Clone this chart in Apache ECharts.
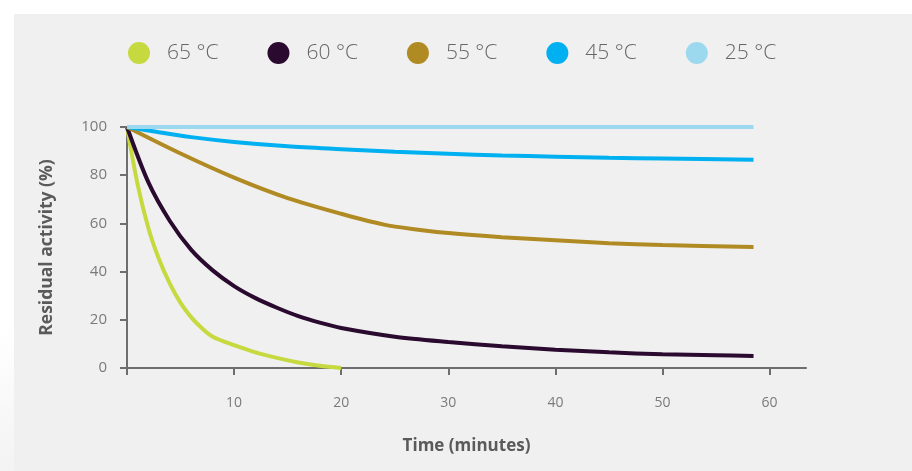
<!DOCTYPE html>
<html>
<head>
<meta charset="utf-8">
<script src="https://cdn.jsdelivr.net/npm/echarts@6/dist/echarts.min.js"></script>
<style>
  html, body { margin: 0; padding: 0; }
  body {
    width: 912px; height: 471px; overflow: hidden; position: relative;
    background: linear-gradient(to bottom, #ffffff 0%, #ffffff 70%, #f3f3f3 100%);
  }
  #panel { position: absolute; left: 14px; top: 14px; right: 0; bottom: 0; background: #f0f0f0; }
  #chart { position: absolute; left: 0; top: 0; width: 912px; height: 471px; }
</style>
</head>
<body>
<div id="panel"></div>
<div id="chart"></div>
<script>
// Residual enzyme activity over time at several incubation temperatures
const seriesNames = ['65 °C', '60 °C', '55 °C', '45 °C', '25 °C'];
const seriesColors = ['#c6d93f', '#2a0a2e', '#b08a22', '#00b0f0', '#9dd9ee'];

// [time (min), residual activity (%)]
const act65 = [[0,100],[1,76],[2,58],[3,45],[4,35],[5,27],[6,21],[7,16.5],[8,13],[10,9.5],[12,6.5],[14,4.2],[16,2.3],[18,0.9],[20,0]];
const act60 = [[0,100],[2,77],[4,61],[6,49],[8,40.5],[10,34],[12,29],[14,25],[16,21.5],[18,18.8],[20,16.6],[25,13],[30,10.8],[35,9],[40,7.6],[45,6.5],[50,5.7],[55,5.3],[58.5,5]];
const act55 = [[0,100],[5,89],[10,79],[15,70.5],[20,64],[24,59.5],[27,57.5],[30,56],[35,54.3],[40,53],[45,51.8],[50,51],[58.5,50.2]];
const act45 = [[0,100],[3,97.8],[6,95.8],[10,93.8],[15,92],[20,90.8],[25,89.7],[30,88.9],[35,88.2],[40,87.7],[45,87.2],[50,86.9],[58.5,86.4]];
const act25 = [[0,100],[30,100],[58.5,100]];
const seriesData = [act65, act60, act55, act45, act25];

const xTicks = [0, 10, 20, 30, 40, 50, 60];
const xLabels = [10, 20, 30, 40, 50, 60];

const axisColor = '#6e6e6e';
const labelColor = '#7a7a7a';
const nameColor = '#5a5a5a';
const fontFamily = "'Open Sans', 'Noto Sans', sans-serif";

const chart = echarts.init(document.getElementById('chart'), null, { renderer: 'canvas' });

chart.setOption({
  backgroundColor: 'transparent',
  animation: false,
  legend: {
    data: seriesNames,
    left: 123,
    top: 37,
    icon: 'circle',
    itemWidth: 22,
    itemHeight: 22,
    itemGap: 49,
    textStyle: {
      color: '#666666', fontSize: 21, fontFamily: fontFamily, fontWeight: 300,
      padding: [0, 0, 0, 12]
    }
  },
  grid: { left: 127, top: 127, right: 106, bottom: 103, containLabel: false },
  xAxis: {
    type: 'value',
    min: 0,
    max: 63.4,
    interval: 10,
    name: 'Time (minutes)',
    nameLocation: 'middle',
    nameGap: 70,
    nameTextStyle: { color: nameColor, fontSize: 17, fontWeight: 'bold', fontFamily: fontFamily },
    axisLine: { show: true, lineStyle: { color: axisColor, width: 2 } },
    axisTick: { show: true, inside: false, length: 7, customValues: xTicks, lineStyle: { color: axisColor, width: 2 } },
    axisLabel: { customValues: xLabels, color: labelColor, fontSize: 14, margin: 28, fontFamily: fontFamily },
    splitLine: { show: false }
  },
  yAxis: {
    type: 'value',
    min: 0,
    max: 100,
    interval: 20,
    name: 'Residual activity (%)',
    nameLocation: 'middle',
    nameGap: 71,
    nameTextStyle: { color: nameColor, fontSize: 17.5, fontWeight: 'bold', fontFamily: fontFamily },
    axisLine: { show: true, lineStyle: { color: axisColor, width: 2 } },
    axisTick: { show: true, inside: false, length: 7, lineStyle: { color: axisColor, width: 2 } },
    axisLabel: { color: labelColor, fontSize: 15, margin: 20, fontFamily: fontFamily },
    splitLine: { show: false }
  },
  series: seriesNames.map((name, i) => ({
    name: name,
    type: 'line',
    data: seriesData[i],
    color: seriesColors[i],
    showSymbol: false,
    smooth: 0.3,
    lineStyle: { width: 4, color: seriesColors[i], cap: 'butt' },
    z: 2 + i
  }))
});
</script>
</body>
</html>
